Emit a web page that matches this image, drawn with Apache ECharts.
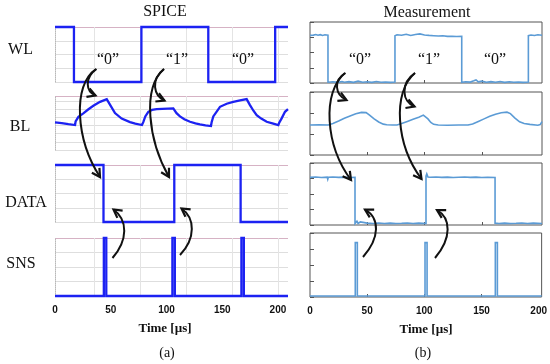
<!DOCTYPE html>
<html><head><meta charset="utf-8">
<script src="https://cdn.jsdelivr.net/npm/echarts@6/dist/echarts.min.js"></script>
<style>html,body{margin:0;padding:0;background:#fff}#c{width:550px;height:364px}</style>
</head><body><div id="c"></div>
<script>
// ---------- data ----------
const timeTicks = [0, 50, 100, 150, 200];
const rowLabels = ['WL', 'BL', 'DATA', 'SNS'];
const bitLabels = ['“0”', '“1”', '“0”'];
const panelTitles = ['SPICE', 'Measurement'];
const axisTitle = 'Time [µs]';
const subCaptions = ['(a)', '(b)'];

// SPICE (left) waveforms: [time µs, level in grid divisions]
const spiceWL = [[0,4],[17,4],[17,0],[77.5,0],[77.5,4],[137.5,4],[137.5,0],[197.5,0],[197.5,4],[209,4]];
const spiceBL = [[0,3.38],[6,3.28],[12,3.15],[18,3.05],[18.5,3.5],[21,4.06],[25.4,4.48],[30,4.98],[34.4,5.4],[40.4,5.89],[46.4,6.22],[47.5,6.0],[49.3,5.55],[53.8,4.51],[59.8,3.84],[67.3,3.41],[72,3.22],[78,3.05],[79.2,3.4],[81,4.1],[83.7,4.67],[87,4.9],[91.2,5.0],[106.1,5.09],[107,4.9],[109,4.5],[112.1,4.1],[116,3.75],[121.1,3.45],[126,3.25],[130,3.13],[135,3.0],[139.9,2.93],[140.5,3.4],[142,4.1],[148,5.28],[154,5.65],[159.9,5.89],[166,6.08],[171.9,6.22],[173,6.0],[174.9,5.49],[178,4.8],[180.9,4.27],[185,3.84],[189.9,3.45],[195,3.25],[200.3,3.05],[201,3.3],[203.3,3.87],[206.3,4.67],[209,5.0]];
const spiceDATA = [[0,4],[43.5,4],[43.5,0],[107,0],[107,4],[166.5,4],[166.5,0],[209,0]];
const spiceSNS = [[0,0],[43.8,0],[43.8,4],[46,4],[46,0],[105.3,0],[105.3,4],[107.5,4],[107.5,0],[167.2,0],[167.2,4],[169.4,4],[169.4,0],[209,0]];

// Measurement (right) waveforms
const measWL = [[0,3.12],[1,3.2],[3,3.14],[5,3.18],[7,3.13],[9,3.17],[11,3.12],[13,3.16],[15.7,3.14],[15.7,0.05],[20,0.08],[24,0.04],[28,0.1],[30,0.05],[34,0.09],[38,0.04],[42,0.12],[46,0.05],[50,0.08],[54,0.04],[58,0.1],[62,0.05],[66,0.07],[70,0.04],[74.2,0.06],[74.2,3.1],[76,3.16],[80,3.13],[84,3.2],[88,3.12],[92,3.18],[96,3.22],[100,3.15],[104,3.12],[108,3.1],[112,3.08],[116,3.1],[120,3.06],[124,3.07],[128,3.05],[132.5,3.06],[132.5,0.05],[136,0.08],[140,0.06],[143,0.14],[145,0.2],[147,0.08],[150,0.12],[154,0.05],[158,0.09],[162,0.05],[166,0.1],[170,0.04],[174,0.08],[178,0.05],[182,0.07],[186,0.04],[190.7,0.06],[190.7,3.1],[193,3.15],[196,3.12],[199,3.16],[202.6,3.13]];
const measBL = [[0,1.43],[8,1.44],[16,1.43],[20,1.5],[25,1.62],[30,1.75],[35,1.86],[40,1.96],[45,2.03],[49,2.02],[52,1.9],[56,1.72],[60,1.57],[64,1.47],[67,1.44],[72,1.43],[76,1.43],[80,1.5],[85,1.6],[90,1.7],[95,1.8],[99,1.9],[100.5,1.88],[103,1.72],[105.5,1.55],[108,1.46],[112,1.43],[120,1.42],[130,1.43],[138,1.43],[142,1.48],[147,1.6],[152,1.72],[157,1.84],[162,1.94],[167,2.01],[172,2.04],[175,1.97],[179,1.76],[183,1.58],[187,1.5],[192,1.46],[199,1.42],[201,1.45],[202.6,1.59]];
const measDATA = [[0,3.07],[5,3.1],[10,3.06],[15,3.09],[15.5,2.95],[16,3.08],[20,3.1],[25,3.07],[30,3.09],[35,3.06],[39.3,3.08],[39.3,0.1],[41,0.25],[42,0.1],[44,0.2],[45,0.09],[50,0.12],[55,0.1],[60,0.13],[65,0.1],[70,0.12],[75,0.1],[80,0.11],[85,0.13],[90,0.1],[95,0.12],[101.3,0.1],[101.3,3.15],[102,3.3],[103,3.1],[105,3.08],[110,3.1],[115,3.07],[120,3.09],[125,3.06],[130,3.08],[135,3.1],[140,3.07],[145,3.09],[150,3.06],[155,3.08],[161.6,3.07],[161.6,0.12],[165,0.1],[170,0.12],[175,0.1],[180,0.11],[185,0.13],[190,0.1],[195,0.12],[202.6,0.1]];
const measSNS = [[0,0.06],[39.6,0.06],[39.6,3.4],[41.4,3.4],[41.4,0.06],[100.6,0.06],[100.6,3.4],[102.4,3.4],[102.4,0.06],[162.1,0.06],[162.1,3.4],[163.9,3.4],[163.9,0.06],[202.6,0.06]];

// ---------- layout ----------
const leftPanels = [
  {top:27, height:55, ymax:4, data:spiceWL},
  {top:96, height:54, ymax:6.6, data:spiceBL},
  {top:165, height:57, ymax:4, data:spiceDATA},
  {top:238, height:58, ymax:4, data:spiceSNS}
];
const rightPanels = [
  {top:22, height:61, ymax:4, data:measWL},
  {top:92, height:63, ymax:3, data:measBL},
  {top:163, height:62, ymax:4, data:measDATA},
  {top:233, height:64, ymax:4, data:measSNS}
];
const L = {left:55, width:233, xmax:209};
const R = {left:310, width:232, xmax:202.6};
const spiceColor = '#1c22f2';
const measColor = '#5b9bd5';

const grid = [], xAxis = [], yAxis = [], series = [];
const labelStyle = {show:true, fontFamily:'Liberation Sans, Arial', fontWeight:'bold', fontSize:10, color:'#111', margin:9, customValues: timeTicks};

leftPanels.forEach((p, i) => {
  const gi = grid.length;
  grid.push({left:L.left, top:p.top, width:L.width, height:p.height});
  xAxis.push({gridIndex:gi, type:'value', min:0, max:L.xmax,
    axisLine:{show:false}, axisTick:{show:false}, splitLine:{show:false},
    axisLabel: i === 3 ? labelStyle : {show:false}});
  const nLines = Math.ceil(p.ymax) + 1;
  const colors = [];
  for (let k = 0; k < nLines - 1; k++) colors.push('#dedede');
  colors.push('#d6b2c4');
  yAxis.push({gridIndex:gi, type:'value', min:0, max:p.ymax, interval:1,
    axisLine:{show:true, lineStyle:{color:'#b8b8b8', type:'dotted'}},
    axisTick:{show:false}, axisLabel:{show:false},
    splitLine:{show:true, lineStyle:{color:colors, width:1}}});
  series.push({type:'line', xAxisIndex:gi, yAxisIndex:gi, data:p.data, showSymbol:false,
    clip:false, lineStyle:{color:spiceColor, width:2.3, join:'miter'}, z:5});
  // vertical faint grid of the SPICE plot
  const gv = grid.length;
  grid.push({left:94, top:p.top, width:184, height:p.height});
  xAxis.push({gridIndex:gv, type:'value', min:0, max:4, interval:1,
    axisLine:{show:false}, axisTick:{show:false}, axisLabel:{show:false},
    splitLine:{show:true, lineStyle:{color:'#e4e4e4', width:1}}});
  yAxis.push({gridIndex:gv, type:'value', min:0, max:1, show:false});
});

rightPanels.forEach((p, i) => {
  const gi = grid.length;
  grid.push({left:R.left, top:p.top, width:R.width, height:p.height, show:true,
    borderColor:'#555', borderWidth:1, backgroundColor:'transparent'});
  xAxis.push({gridIndex:gi, type:'value', min:0, max:R.xmax,
    axisLine:{show:false},
    axisTick:{show:true, inside:true, length:3, customValues: timeTicks.slice(1,4), lineStyle:{color:'#555'}},
    splitLine:{show:false},
    axisLabel: i === 3 ? Object.assign({}, labelStyle, {margin:9}) : {show:false}});
  yAxis.push({gridIndex:gi, type:'value', min:0, max:p.ymax, interval:1,
    axisLine:{show:false}, axisLabel:{show:false}, splitLine:{show:false},
    axisTick:{show:true, inside:true, length:4, lineStyle:{color:'#555'}}});
  series.push({type:'line', xAxisIndex:gi, yAxisIndex:gi, data:p.data, showSymbol:false,
    clip:false, lineStyle:{color:measColor, width:1.6, join:'miter'}, z:5});
});

// ---------- text & arrows ----------
const serif = 'Liberation Serif, Times New Roman, serif';
const graphic = [];
function txt(x, y, s, size, bold) {
  graphic.push({type:'text', x:x, y:y, z:20, style:{text:s, x:0, y:0, fill:'#111',
    font:(bold ? 'bold ' : '') + size + 'px ' + serif, textAlign:'center', textVerticalAlign:'middle'}});
}
txt(165, 12, panelTitles[0], 16);
txt(427, 13, panelTitles[1], 16);
const rowPos = [[20.5,50],[20,127],[26,203],[21,264]];
rowLabels.forEach((s, i) => txt(rowPos[i][0], rowPos[i][1], s, 16));
[[108,60],[177,60],[243,60]].forEach((q, i) => txt(q[0], q[1], bitLabels[i], 16));
[[360,60],[429,60],[495,60]].forEach((q, i) => txt(q[0], q[1], bitLabels[i], 16));
txt(165, 329, axisTitle, 13, true);
txt(426, 330, axisTitle, 13, true);
txt(167, 353, subCaptions[0], 14);
txt(423, 353, subCaptions[1], 14);

const arrows = [
  [[96.5,69],[84,78],[86,92],[95.5,95.5]],
  [[96,69],[72,85],[76,140],[100,177]],
  [[164,69],[150,80],[154,96],[164.5,100.5]],
  [[164,69],[142,88],[148,140],[169,177]],
  [[112.5,258],[128,240],[128,220],[113.5,209.5]],
  [[180,255],[196,238],[195,218],[181.5,208.5]],
  [[345.5,73],[333,80],[335,95],[346.5,100]],
  [[345,73],[322,92],[325,145],[351,180]],
  [[415,73],[400,83],[402,102],[414.5,106.5]],
  [[415,73],[392,92],[396,145],[421.5,179]],
  [[363,257],[380,238],[380,218],[365,209.5]],
  [[435,258],[452,238],[451,218],[437,210]]
];
arrows.forEach(a => {
  graphic.push({type:'bezierCurve', z:30, shape:{x1:a[0][0], y1:a[0][1], cpx1:a[1][0], cpy1:a[1][1],
    cpx2:a[2][0], cpy2:a[2][1], x2:a[3][0], y2:a[3][1]},
    style:{stroke:'#111', lineWidth:2, fill:null}});
  const ang = Math.atan2(a[3][1]-a[2][1], a[3][0]-a[2][0]);
  const len = 8, hw = 4.5;
  const bx = a[3][0] - len*Math.cos(ang), by = a[3][1] - len*Math.sin(ang);
  const px = -Math.sin(ang), py = Math.cos(ang);
  graphic.push({type:'polyline', z:31, shape:{points:[[bx+hw*px, by+hw*py],[a[3][0],a[3][1]],[bx-hw*px, by-hw*py]]},
    style:{stroke:'#111', lineWidth:2.2, fill:null, lineJoin:'miter'}});
});

const chart = echarts.init(document.getElementById('c'), null, {renderer:'canvas'});
chart.setOption({animation:false, backgroundColor:'#fff', grid, xAxis, yAxis, series, graphic});
</script></body></html>
